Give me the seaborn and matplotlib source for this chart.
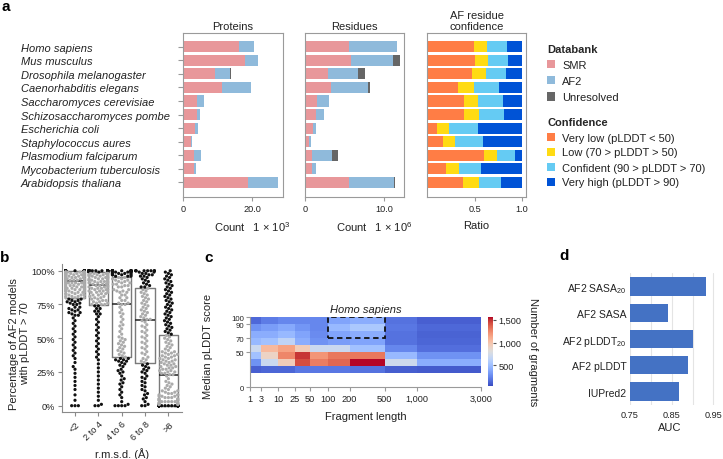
import warnings
warnings.filterwarnings('ignore')
import numpy as np
import pandas as pd
import matplotlib
matplotlib.use('Agg')
import matplotlib.pyplot as plt
import seaborn as sns
from matplotlib.patches import Patch, Rectangle
from matplotlib.ticker import FuncFormatter

# ---------------- data (panel a) ----------------
species = ["Homo sapiens", "Mus musculus", "Drosophila melanogaster", "Caenorhabditis elegans",
           "Saccharomyces cerevisiae", "Schizosaccharomyces pombe", "Escherichia coli",
           "Staphylococcus aures", "Plasmodium falciparum", "Mycobacterium tuberculosis",
           "Arabidopsis thaliana"]
# proteins, thousands
prot_smr = [16.2, 17.9, 9.2, 11.25, 4.1, 3.94, 3.46, 2.4, 3.27, 3.08, 18.8]
prot_af2 = [4.2, 3.8, 4.4, 8.35, 1.86, 1.06, 0.77, 0.3, 2.03, 0.77, 8.5]
prot_unres = [0.0, 0.0, 0.2, 0.0, 0.0, 0.0, 0.0, 0.0, 0.0, 0.0, 0.0]
# residues, millions
res_smr = [5.59, 5.84, 2.86, 3.28, 1.47, 1.34, 1.05, 0.55, 0.88, 0.88, 5.59]
res_af2 = [6.01, 5.21, 3.86, 4.62, 1.51, 1.10, 0.34, 0.25, 2.52, 0.46, 5.59]
res_unres = [0.0, 0.88, 0.80, 0.34, 0.0, 0.0, 0.0, 0.0, 0.80, 0.0, 0.16]
# AF residue confidence ratios
conf_very_low = [0.490, 0.496, 0.464, 0.314, 0.382, 0.379, 0.096, 0.154, 0.593, 0.186, 0.371]
conf_low = [0.135, 0.144, 0.150, 0.172, 0.147, 0.164, 0.129, 0.128, 0.139, 0.139, 0.175]
conf_confident = [0.221, 0.213, 0.218, 0.274, 0.267, 0.267, 0.304, 0.307, 0.193, 0.243, 0.236]
conf_very_high = [0.154, 0.147, 0.168, 0.240, 0.204, 0.190, 0.471, 0.411, 0.075, 0.432, 0.218]

# ---------------- data (panel b) ----------------
rmsd_bins = ["<2", "2 to 4", "4 to 6", "6 to 8", ">8"]
lt2_vals = [100, 99, 98, 97, 96, 95, 94, 93, 92, 91, 90, 89, 88, 87, 86, 85, 84, 83, 82, 81, 80,
            79, 78, 77, 76, 75, 73, 72, 71, 70, 69, 68, 67, 65, 63, 61, 59, 57, 55, 53, 51, 49, 47,
            45, 43, 41, 39, 37, 35, 32, 29, 27, 24, 21, 18, 15, 12, 8, 4, 0]
lt2_counts = [55, 9, 8, 7, 6, 5, 5, 5, 5, 5, 4, 4, 4, 4, 4, 4, 4, 3, 3, 3, 3,
              2, 2, 2, 2, 2, 2, 1, 2, 1, 2, 1, 2, 1, 1, 1, 1, 1, 1, 1, 1, 1, 1,
              1, 1, 1, 1, 1, 1, 1, 1, 1, 1, 1, 1, 1, 1, 1, 1, 3]
r24_vals = [100, 99, 98, 97, 96, 95, 94, 93, 92, 91, 90, 89, 88, 87, 86, 85, 84, 83, 82, 81, 80,
            79, 78, 77, 76, 75, 74, 72, 70, 68, 66, 64, 62, 60, 58, 56, 54, 52, 50, 48, 46, 44, 42,
            40, 38, 36, 34, 31, 28, 25, 22, 19, 16, 13, 10, 7, 4, 1, 0]
r24_counts = [30, 8, 5, 5, 4, 4, 4, 4, 4, 4, 3, 3, 3, 3, 3, 3, 3, 2, 2, 2, 2,
              2, 2, 2, 2, 3, 2, 2, 2, 2, 1, 1, 1, 1, 1, 1, 1, 1, 1, 1, 1, 1, 1,
              1, 1, 1, 1, 1, 1, 1, 1, 1, 1, 1, 1, 1, 1, 1, 2]
r46_vals = [100, 99, 98, 97, 96, 95, 94, 93, 92, 91, 90, 89, 88, 86, 85, 84, 82, 80, 78, 76,
            75, 73, 71, 69, 68, 66, 64, 62, 60, 59, 57, 55, 53, 51, 50, 49, 48, 47, 46, 45, 44,
            43, 42, 41, 40, 39, 38, 37, 36, 35, 34, 33, 32, 31, 30, 29, 27, 26, 25, 24, 22, 20,
            19, 17, 16, 14, 12, 10, 8, 6, 3, 1, 0]
r46_counts = [14, 5, 4, 4, 3, 2, 2, 2, 2, 2, 2, 2, 2, 2, 2, 2, 2, 2, 2, 2,
              2, 1, 1, 1, 1, 1, 1, 1, 1, 1, 1, 1, 1, 1, 1, 1, 1, 1, 1, 1, 1,
              1, 1, 1, 1, 1, 1, 1, 1, 2, 2, 2, 1, 1, 1, 1, 1, 1, 1, 1, 1, 1,
              1, 1, 1, 1, 1, 1, 1, 1, 1, 1, 4]
r68_vals = [100, 99, 98, 97, 96, 95, 94, 93, 92, 91, 90, 89, 88, 87, 86, 85, 84, 83, 82, 81, 80,
            79, 78, 77, 76, 75, 74, 73, 72, 71, 70, 69, 68, 67, 66, 65, 64, 63, 62, 60, 59, 58,
            56, 55, 54, 52, 51, 50, 48, 47, 46, 44, 43, 42, 40, 39, 38, 36, 35, 34, 33, 32, 31,
            30, 29, 28, 27, 26, 25, 24, 22, 21, 20, 18, 17, 15, 14, 12, 11, 9, 8, 6, 5, 3, 1, 0]
r68_counts = [8, 2, 2, 2, 2, 1, 1, 1, 1, 1, 1, 1, 2, 1, 1, 1, 1, 1, 1, 1, 1,
              1, 1, 1, 1, 1, 1, 1, 1, 1, 1, 1, 1, 1, 1, 1, 2, 1, 1, 1, 1, 1,
              1, 1, 1, 1, 1, 1, 1, 1, 1, 1, 1, 1, 1, 1, 1, 1, 1, 1, 1, 1, 1,
              1, 1, 1, 1, 1, 1, 1, 1, 1, 1, 1, 1, 1, 1, 1, 1, 1, 1, 1, 1, 1, 1, 2]
gt8_vals = [0, 1, 2, 3, 4, 5, 6, 7, 8, 9, 10, 11, 12, 13, 14, 15, 16, 17, 18, 20, 22,
            23, 24, 25, 26, 27, 28, 29, 30, 31, 32, 33, 34, 35, 36, 37, 38, 39, 40, 41, 42, 43,
            44, 45, 46, 47, 48, 49, 50, 51, 52, 53, 54, 55, 56, 57, 58, 59, 60, 61, 62, 63, 64,
            65, 66, 67, 68, 69, 70, 71, 72, 73, 74, 75, 76, 77, 78, 79, 80, 81, 82, 83, 84, 85,
            86, 87, 88, 89, 90, 91, 92, 93, 94, 95, 96, 97, 98, 99, 100]
gt8_counts = [50, 5, 4, 5, 4, 4, 3, 3, 3, 2, 2, 2, 1, 1, 1, 1, 1, 1, 1, 1, 1,
              2, 2, 2, 2, 2, 2, 2, 2, 2, 2, 2, 2, 2, 2, 2, 2, 2, 2, 1, 1, 1,
              1, 1, 1, 1, 1, 1, 1, 1, 1, 1, 1, 1, 1, 1, 1, 1, 1, 1, 1, 1, 1,
              1, 1, 1, 1, 1, 1, 1, 1, 1, 1, 1, 1, 1, 1, 1, 1, 1, 1, 1, 1, 1,
              1, 1, 1, 1, 1, 1, 1, 1, 1, 1, 1, 1, 1, 1, 1]

# ---------------- data (panel c) ----------------
frag_edges = [1, 3, 10, 25, 50, 100, 200, 500, 1000, 3000]
frag_tick_labels = ["1", "3", "10", "25", "50", "100", "200", "500", "1,000", "3,000"]
plddt_edges = [100, 90, 80, 70, 60, 50, 40, 30, 20]
plddt_ticks = [0, 50, 70, 90, 100]
frag_counts = [
    [150, 220, 260, 260, 260, 380, 420, 180, 120],
    [300, 350, 400, 320, 260, 480, 560, 200, 150],
    [420, 420, 480, 380, 280, 380, 420, 180, 130],
    [480, 520, 650, 420, 300, 350, 380, 180, 140],
    [700, 1050, 1150, 950, 700, 700, 520, 260, 170],
    [520, 900, 1250, 1480, 1200, 1300, 1300, 480, 300],
    [300, 700, 950, 1420, 1280, 1350, 1560, 720, 420],
    [120, 140, 140, 200, 200, 200, 180, 110, 100],
]

# ---------------- data (panel d) ----------------
auc_methods = ["AF2 SASA$_{20}$", "AF2 SASA", "AF2 pLDDT$_{20}$", "AF2 pLDDT", "IUPred2"]
auc_values = [0.932, 0.842, 0.900, 0.889, 0.867]

# ---------------- style ----------------
sns.set_theme(style="ticks")
plt.rcParams['font.family'] = ['Liberation Sans', 'DejaVu Sans']
plt.rcParams['mathtext.fontset'] = 'custom'
plt.rcParams['mathtext.rm'] = 'Liberation Sans'
plt.rcParams['mathtext.it'] = 'Liberation Sans:italic'
plt.rcParams['mathtext.bf'] = 'Liberation Sans:bold'
plt.rcParams['axes.unicode_minus'] = False

TXT = '#222222'
SPINE = '#9a9a9a'
FS = 8
TFS = 6.6

W, H = 723, 460
fig = plt.figure(figsize=(W / 100, H / 100), dpi=100)


def add_ax(l, t, r, b):
    return fig.add_axes([l / W, 1 - b / H, (r - l) / W, (b - t) / H])


def style_ax(ax, color=SPINE):
    for s in ax.spines.values():
        s.set_color(color)
        s.set_linewidth(0.8)
    ax.tick_params(labelsize=TFS, colors=color, labelcolor=TXT, length=3, width=0.8, pad=2)


# ---------------- panel a ----------------
ax_p = add_ax(183, 34.3, 282.7, 197.7)
ax_r = add_ax(305, 34.3, 404.3, 197.7)
ax_c = add_ax(426.7, 34.3, 526.3, 197.7)

db_colors = ['#e8979a', '#8fbadb', '#666666']
conf_colors = ['#ff7d45', '#ffdb13', '#65cbf3', '#0053d6']


def stacked(ax, segs, colors):
    cum = np.cumsum(np.array(segs, dtype=float), axis=0)
    for i in range(len(segs) - 1, -1, -1):
        d = pd.DataFrame({'species': species, 'v': cum[i]})
        sns.barplot(data=d, x='v', y='species', order=species, color=colors[i], saturation=1,
                    width=0.82, linewidth=0, errorbar=None, orient='h', ax=ax)


stacked(ax_p, [prot_smr, prot_af2, prot_unres], db_colors)
stacked(ax_r, [res_smr, res_af2, res_unres], db_colors)
stacked(ax_c, [conf_very_low, conf_low, conf_confident, conf_very_high], conf_colors)

for ax in (ax_p, ax_r, ax_c):
    style_ax(ax)
    ax.set_ylim(11.06, -0.99)
    ax.set_ylabel('')

ax_p.set_xlim(0, 28.77)
ax_p.set_xticks([0, 20], ['0', '20.0'])
ax_r.set_xlim(0, 12.52)
ax_r.set_xticks([0, 10], ['0', '10.0'])
ax_c.set_xlim(-0.017, 1.049)
ax_c.set_xticks([0.5, 1.0], ['0.5', '1.0'])

ax_p.set_yticks(range(len(species)))
ax_p.set_yticklabels(species, fontstyle='italic', fontsize=FS, ha='left', color=TXT)
ax_p.tick_params(axis='y', length=3.5, pad=(183 - 21) * 0.72 - 3.5)
ax_r.set_yticks([])
ax_c.set_yticks([])

ax_p.set_title('Proteins', fontsize=FS, color=TXT, pad=3)
ax_r.set_title('Residues', fontsize=FS, color=TXT, pad=3)
ax_c.set_title('AF residue\nconfidence', fontsize=FS, color=TXT, pad=3, linespacing=1.1)

ax_p.set_xlabel('Count   1 × 10$^3$', fontsize=FS, color=TXT)
ax_p.xaxis.set_label_coords(0.69, -0.14)
ax_r.set_xlabel('Count   1 × 10$^6$', fontsize=FS, color=TXT)
ax_r.xaxis.set_label_coords(0.695, -0.14)
ax_c.set_xlabel('Ratio', fontsize=FS, color=TXT)
ax_c.xaxis.set_label_coords(0.5, -0.14)

db_handles = [Patch(facecolor=c, edgecolor='none', label=l) for c, l in zip(db_colors, ['SMR', 'AF2', 'Unresolved'])]
leg1 = fig.legend(handles=db_handles, title='Databank', loc='upper left',
                  bbox_to_anchor=(547 / W, 1 - 45 / H), frameon=False, fontsize=FS,
                  title_fontproperties={'weight': 'bold', 'size': FS}, alignment='left',
                  handlelength=0.75, handleheight=0.75, handletextpad=0.6, labelspacing=0.55,
                  borderpad=0, borderaxespad=0)
conf_labels = ['Very low (pLDDT < 50)', 'Low (70 > pLDDT > 50)', 'Confident (90 > pLDDT > 70)',
               'Very high (pLDDT > 90)']
cf_handles = [Patch(facecolor=c, edgecolor='none', label=l) for c, l in zip(conf_colors, conf_labels)]
leg2 = fig.legend(handles=cf_handles, title='Confidence', loc='upper left',
                  bbox_to_anchor=(547 / W, 1 - 118.5 / H), frameon=False, fontsize=FS,
                  title_fontproperties={'weight': 'bold', 'size': FS}, alignment='left',
                  handlelength=0.75, handleheight=0.75, handletextpad=0.6, labelspacing=0.45,
                  borderpad=0, borderaxespad=0)
for lg in (leg1, leg2):
    for t in lg.get_texts():
        t.set_color(TXT)

# ---------------- panel b ----------------
ax_b = add_ax(61.7, 265, 181.7, 413.3)
parts = []
for cat, vals, cnts in zip(rmsd_bins, [lt2_vals, r24_vals, r46_vals, r68_vals, gt8_vals],
                           [lt2_counts, r24_counts, r46_counts, r68_counts, gt8_counts]):
    parts.append(pd.DataFrame({'rmsd': cat, 'pct': np.repeat(vals, cnts).astype(float)}))
dfb = pd.concat(parts, ignore_index=True)
q1 = dfb.groupby('rmsd')['pct'].quantile(0.25)
q3 = dfb.groupby('rmsd')['pct'].quantile(0.75)
inside = (dfb['pct'] > dfb['rmsd'].map(q1)) & (dfb['pct'] < dfb['rmsd'].map(q3))
dfb['where'] = np.where(inside, 'in', 'out')

sns.swarmplot(data=dfb, x='rmsd', y='pct', order=rmsd_bins, hue='where', hue_order=['out', 'in'],
              palette={'out': '#111111', 'in': '#ababab'}, size=2.3, linewidth=0, legend=False,
              ax=ax_b)
sns.boxplot(data=dfb, x='rmsd', y='pct', order=rmsd_bins, fill=False, color='#7a7a7a',
            linewidth=1, whis=0, showfliers=False, showcaps=False, width=0.82,
            medianprops={'color': '#222222', 'linewidth': 1.1}, ax=ax_b)
style_ax(ax_b, '#8a8a8a')
sns.despine(ax=ax_b)
ax_b.set_xlim(-0.57, 4.57)
ax_b.set_ylim(-4.9, 105)
ax_b.set_yticks([0, 25, 50, 75, 100], ['0%', '25%', '50%', '75%', '100%'])
ax_b.set_xticks(range(5))
ax_b.set_xticklabels(rmsd_bins, rotation=45, ha='right', rotation_mode='anchor')
ax_b.set_xlabel('r.m.s.d. (Å)', fontsize=FS, color=TXT)
ax_b.xaxis.set_label_coords(0.5, -0.235)
ax_b.set_ylabel('Percentage of AF2 models\nwith pLDDT > 70', fontsize=FS, color=TXT, linespacing=1.15)
ax_b.yaxis.set_label_coords(-0.265, 0.47)

# ---------------- panel c ----------------
ax_h = add_ax(250, 318.3, 481, 388.3)
f_fwd = lambda x: np.power(np.clip(x, 0, None), 0.25)
f_inv = lambda x: np.power(np.clip(x, 0, None), 4.0)
ax_h.set_xscale('function', functions=(f_fwd, f_inv))
mesh = ax_h.pcolormesh(frag_edges, plddt_edges, np.array(frag_counts), cmap='coolwarm',
                       vmin=50, vmax=1560, shading='flat', linewidth=0, rasterized=True)
ax_h.add_patch(Rectangle((100, 70), 400, 30, fill=False, ls=(0, (3, 2)), lw=1.3, ec='#111111'))
ax_h.set_xlim(1, 3000)
ax_h.set_ylim(0, 100)
style_ax(ax_h, '#9a9a9a')
sns.despine(ax=ax_h)
ax_h.set_xticks(frag_edges, frag_tick_labels)
ax_h.minorticks_off()
ax_h.set_yticks(plddt_ticks, [str(t) for t in plddt_ticks])
ax_h.tick_params(axis='y', labelsize=5.6, pad=1.5)
ax_h.set_title('Homo sapiens', fontstyle='italic', fontsize=FS, color=TXT, pad=4)
ax_h.set_xlabel('Fragment length', fontsize=FS, color=TXT)
ax_h.xaxis.set_label_coords(0.5, -0.34)
ax_h.set_ylabel('Median pLDDT score', fontsize=FS, color=TXT)
ax_h.yaxis.set_label_coords(-0.16, 0.6)

cax = add_ax(488, 318, 493, 387)
cb = fig.colorbar(mesh, cax=cax)
cb.outline.set_visible(False)
cb.set_ticks([500, 1000, 1500])
cax.yaxis.set_major_formatter(FuncFormatter(lambda v, p: f'{int(v):,}'))
cax.tick_params(labelsize=TFS, length=2.5, width=0.8, colors='#555555', labelcolor=TXT, pad=1.5)
cb.set_label('Number of gragments', rotation=270, fontsize=FS, color=TXT, labelpad=12)

# ---------------- panel d ----------------
ax_d = add_ax(630, 274.3, 719, 405.7)
dfd = pd.DataFrame({'method': auc_methods, 'auc': auc_values})
sns.barplot(data=dfd, x='auc', y='method', order=auc_methods, color='#4472c4', saturation=1,
            width=0.7, linewidth=0, errorbar=None, orient='h', ax=ax_d)
ax_d.set_xlim(0.75, 0.9636)
ax_d.set_xticks([0.75, 0.80, 0.85, 0.90, 0.95], ['0.75', '', '0.85', '', '0.95'])
ax_d.grid(axis='x', color='#e4e4e4', linewidth=0.8)
ax_d.set_axisbelow(True)
for s in ax_d.spines.values():
    s.set_visible(False)
ax_d.tick_params(length=0, labelsize=TFS, labelcolor=TXT, pad=4)
ax_d.tick_params(axis='y', labelsize=7.5, pad=2.5)
ax_d.set_ylabel('')
ax_d.set_xlabel('AUC', fontsize=FS, color=TXT)
ax_d.xaxis.set_label_coords(0.45, -0.13)

# ---------------- panel letters ----------------
for lbl, x, y in [('a', 1, 11), ('b', 0, 262), ('c', 204, 262), ('d', 559, 260)]:
    fig.text(x / W, 1 - y / H, lbl, fontsize=11, fontweight='bold', color='black',
             ha='left', va='baseline')

fig.savefig('out.png', dpi=100)
